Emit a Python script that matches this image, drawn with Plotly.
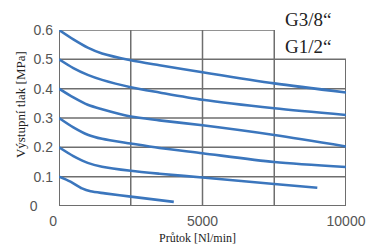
import plotly.graph_objects as go

flow_06 = [0, 500, 1000, 1500, 2500, 3500, 5000, 7500, 10000]
p_06 = [0.6, 0.568, 0.54, 0.52, 0.497, 0.48, 0.456, 0.418, 0.387]
flow_05 = [0, 500, 1000, 1500, 2500, 3500, 5000, 7500, 10000]
p_05 = [0.5, 0.47, 0.447, 0.43, 0.405, 0.387, 0.362, 0.333, 0.31]
flow_04 = [0, 500, 1000, 1500, 2500, 3500, 5000, 7500, 10000]
p_04 = [0.4, 0.37, 0.345, 0.33, 0.305, 0.292, 0.275, 0.242, 0.203]
flow_03 = [0, 500, 1000, 1500, 2500, 3500, 5000, 7500, 10000]
p_03 = [0.3, 0.268, 0.243, 0.229, 0.213, 0.198, 0.18, 0.15, 0.133]
flow_02 = [0, 500, 1000, 1500, 2500, 3500, 5000, 7500, 9000]
p_02 = [0.2, 0.17, 0.147, 0.134, 0.12, 0.11, 0.097, 0.075, 0.062]
flow_01 = [0, 400, 800, 1100, 1600, 2500, 4000]
p_01 = [0.1, 0.083, 0.06, 0.05, 0.043, 0.032, 0.014]

series = [(flow_06, p_06), (flow_05, p_05), (flow_04, p_04),
          (flow_03, p_03), (flow_02, p_02), (flow_01, p_01)]

x_ticks = [0, 5000, 10000]
x_ticktext = ["0\u00a0\u00a0\u00a0", "5000", "10000"]
y_ticks = [0, 0.1, 0.2, 0.3, 0.4, 0.5, 0.6]
y_ticktext = ["0\u00a0\u00a0\u00a0\u00a0", "0.1", "0.2", "0.3", "0.4", "0.5", "0.6"]
v_grid = [2500, 5000, 7500]
h_grid = [0.1, 0.2, 0.3, 0.4, 0.5]
sizes = ["G3/8\u201c", "G1/2\u201c"]

BLUE = "#3b76bd"
GRID = "#6e6e6e"

fig = go.Figure()
for fx, fy in series:
    fig.add_trace(go.Scatter(x=fx, y=fy, mode="lines",
                             line=dict(color=BLUE, width=2.6, shape="spline", smoothing=0.8),
                             hoverinfo="skip", showlegend=False))

shapes = []
line = dict(color=GRID, width=1.5)
for gx in v_grid:
    shapes.append(dict(type="line", xref="x", yref="y", x0=gx, x1=gx, y0=0, y1=0.6, line=line, layer="below"))
for gy in h_grid:
    shapes.append(dict(type="line", xref="x", yref="y", x0=0, x1=10000, y0=gy, y1=gy, line=line, layer="below"))
# borders
shapes.append(dict(type="line", xref="x", yref="y", x0=0, x1=0, y0=0, y1=0.6, line=dict(color=GRID, width=2), layer="below"))
shapes.append(dict(type="line", xref="x", yref="y", x0=0, x1=10000, y0=0, y1=0, line=dict(color=GRID, width=2), layer="below"))
shapes.append(dict(type="line", xref="x", yref="y", x0=0, x1=7500, y0=0.6, y1=0.6, line=line, layer="below"))
shapes.append(dict(type="line", xref="x", yref="y", x0=10000, x1=10000, y0=0, y1=0.5, line=dict(color=GRID, width=2), layer="below"))

annotations = [
    dict(text=sizes[0], xref="paper", yref="paper", x=0.78, y=1.0625, xanchor="left", yanchor="middle",
         showarrow=False, font=dict(family="Liberation Serif", size=19, color="#222")),
    dict(text=sizes[1], xref="paper", yref="paper", x=0.78, y=0.905, xanchor="left", yanchor="middle",
         showarrow=False, font=dict(family="Liberation Serif", size=19, color="#222")),
    dict(text="Výstupní tlak [MPa]", xref="paper", yref="paper", x=-0.132, y=0.574,
         xanchor="center", yanchor="middle", textangle=-90, showarrow=False,
         font=dict(family="Liberation Serif", size=13, color="#222")),
    dict(text="Průtok [Nl/min]", xref="paper", yref="paper", x=0.481, y=-0.182,
         xanchor="center", yanchor="middle", showarrow=False,
         font=dict(family="Liberation Serif", size=12, color="#222")),
]

fig.update_layout(
    width=366, height=244,
    margin=dict(l=59, r=20, t=30, b=38, autoexpand=False),
    paper_bgcolor="white", plot_bgcolor="white",
    shapes=shapes, annotations=annotations,
    xaxis=dict(range=[0, 10000], tickvals=x_ticks, ticktext=x_ticktext, showgrid=False,
               zeroline=False, showline=False, ticks="", ticklabelstandoff=5, automargin=False,
               tickfont=dict(family="Liberation Sans", size=14, color="#555")),
    yaxis=dict(range=[0, 0.6], tickvals=y_ticks, ticktext=y_ticktext, showgrid=False,
               zeroline=False, showline=False, ticks="", ticklabelstandoff=5, automargin=False,
               tickfont=dict(family="Liberation Sans", size=14, color="#555")),
)
fig.write_html("out.html", config={"displayModeBar": False},
               post_script="document.body.style.margin='0';document.body.style.overflow='hidden';")
